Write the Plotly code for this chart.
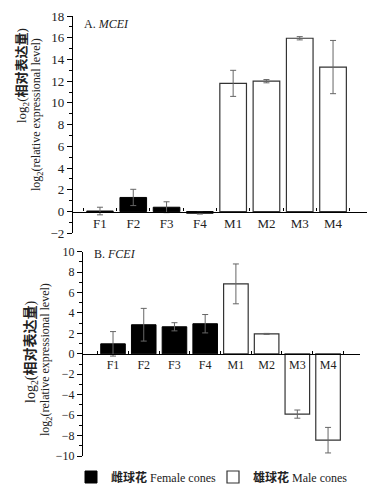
import plotly.graph_objects as go

# ---------------- data ----------------
female_cats = ["F1", "F2", "F3", "F4"]
male_cats = ["M1", "M2", "M3", "M4"]
all_cats = female_cats + male_cats

# Panel A: MCEI
a_female = [0.05, 1.3, 0.4, -0.15]
a_female_err = [0.35, 0.75, 0.5, 0.08]
a_male = [11.8, 12.0, 15.95, 13.3]
a_male_err = [1.2, 0.15, 0.15, 2.45]

# Panel B: FCEI
b_female = [0.98, 2.85, 2.65, 2.95]
b_female_err = [1.2, 1.6, 0.4, 0.9]
b_male = [6.85, 1.95, -5.9, -8.45]
b_male_err = [1.95, 0.05, 0.4, 1.25]

a_yrange = [-2, 18]
b_yrange = [-10, 10]
a_xrange = [-0.84, 8.02]
b_xrange = [-1.01, 8.04]

# ---------------- layout geometry ----------------
OFF = 8  # page body margin
W, H = 375 - 2 * OFF, 492 - 2 * OFF   # keep page free of scrollbars


def px_x(px):
    return (px - OFF) / W


def px_y(py):
    return 1 - (py - OFF) / H


a_xdom = [px_x(72), px_x(367)]
a_ydom = [px_y(233.3), px_y(16)]
b_xdom = [px_x(82), px_x(360)]
b_ydom = [px_y(456), px_y(251.7)]


def zero_pos(dom, rng):
    return dom[0] + (0 - rng[0]) / (rng[1] - rng[0]) * (dom[1] - dom[0])


SERIF = "Liberation Serif, Noto Sans CJK SC, serif"
BAR_W = 0.8
ERR_COLOR = "#666666"
TXT = "#222222"

fig = go.Figure()


def add_panel(fv, fe, mv, me, xa, ya, show_legend):
    fig.add_trace(go.Bar(
        x=female_cats, y=fv, width=BAR_W, xaxis=xa, yaxis=ya,
        name="<b>雌球花</b> Female cones", showlegend=show_legend,
        marker=dict(color="black", line=dict(color="black", width=1)),
        error_y=dict(type="data", array=fe, color=ERR_COLOR, thickness=1, width=3),
    ))
    fig.add_trace(go.Bar(
        x=male_cats, y=mv, width=BAR_W, xaxis=xa, yaxis=ya,
        name="<b>雄球花</b> Male cones", showlegend=show_legend,
        marker=dict(color="white", line=dict(color="#333333", width=1.2)),
        error_y=dict(type="data", array=me, color=ERR_COLOR, thickness=1, width=3),
    ))


add_panel(a_female, a_female_err, a_male, a_male_err, "x", "y", True)
add_panel(b_female, b_female_err, b_male, b_male_err, "x2", "y2", False)


def xaxis_cfg(dom, rng, ydom, yrng, size):
    return dict(
        type="category", categoryorder="array", categoryarray=all_cats,
        showline=True, linecolor="black", linewidth=1.2,
        ticks="inside", ticklen=3, tickcolor="black", tickson="boundaries",
        showgrid=False, zeroline=False, fixedrange=True, automargin=False,
        tickfont=dict(family=SERIF, size=size, color=TXT),
        domain=dom, range=rng, anchor="free", position=zero_pos(ydom, yrng),
    )


def yaxis_cfg(dom, rng, xpos, size):
    return dict(
        showline=True, linecolor="black", linewidth=1.2,
        ticks="outside", ticklen=5, tickcolor="black", dtick=2,
        minor=dict(ticks="outside", ticklen=3, dtick=1, tickcolor="black", showgrid=False),
        showgrid=False, zeroline=False, fixedrange=True, automargin=False,
        ticklabeloverflow="allow",
        tickfont=dict(family=SERIF, size=size, color=TXT),
        domain=dom, range=rng, anchor="free", position=xpos,
    )


fig.update_layout(
    width=W, height=H,
    margin=dict(l=0, r=0, t=0, b=0, autoexpand=False),
    paper_bgcolor="white", plot_bgcolor="white",
    barmode="overlay",
    xaxis=xaxis_cfg(a_xdom, a_xrange, a_ydom, a_yrange, 13),
    yaxis=yaxis_cfg(a_ydom, a_yrange, a_xdom[0], 13),
    xaxis2=xaxis_cfg(b_xdom, b_xrange, b_ydom, b_yrange, 12),
    yaxis2=yaxis_cfg(b_ydom, b_yrange, b_xdom[0], 12),
    legend=dict(orientation="h", xref="container", yref="container",
                x=px_x(71), y=px_y(477), xanchor="left", yanchor="middle",
                font=dict(family=SERIF, size=12, color=TXT),
                itemwidth=30, entrywidth=97, entrywidthmode="pixels",
                traceorder="normal", bgcolor="rgba(0,0,0,0)"),
    showlegend=True,
)

annotations = [
    dict(text="A. <i>MCEI</i>", xref="x domain", yref="y domain", x=0.034, y=0.962,
         xanchor="left", yanchor="middle", showarrow=False,
         font=dict(family=SERIF, size=12, color=TXT)),
    dict(text="B. <i>FCEI</i>", xref="x2 domain", yref="y2 domain", x=0.036, y=0.99,
         xanchor="left", yanchor="middle", showarrow=False,
         font=dict(family=SERIF, size=12, color=TXT)),
    # y-axis titles, panel A
    dict(text="log<sub>2</sub>(<b>相对表达量</b>)", xref="paper", yref="paper",
         x=px_x(23), y=px_y(76), textangle=-90, showarrow=False,
         xanchor="center", yanchor="middle",
         font=dict(family=SERIF, size=13, color=TXT)),
    dict(text="log<sub>2</sub>(relative expressional level)", xref="paper", yref="paper",
         x=px_x(37), y=px_y(115), textangle=-90, showarrow=False,
         xanchor="center", yanchor="middle",
         font=dict(family=SERIF, size=12, color=TXT)),
    # y-axis titles, panel B
    dict(text="log<sub>2</sub>(<b>相对表达量</b>)", xref="paper", yref="paper",
         x=px_x(31), y=px_y(352), textangle=-90, showarrow=False,
         xanchor="center", yanchor="middle",
         font=dict(family=SERIF, size=14, color=TXT)),
    dict(text="log<sub>2</sub>(relative expressional level)", xref="paper", yref="paper",
         x=px_x(46), y=px_y(360), textangle=-90, showarrow=False,
         xanchor="center", yanchor="middle",
         font=dict(family=SERIF, size=12, color=TXT)),
]
fig.update_layout(annotations=annotations)

fig.write_html("out.html")
